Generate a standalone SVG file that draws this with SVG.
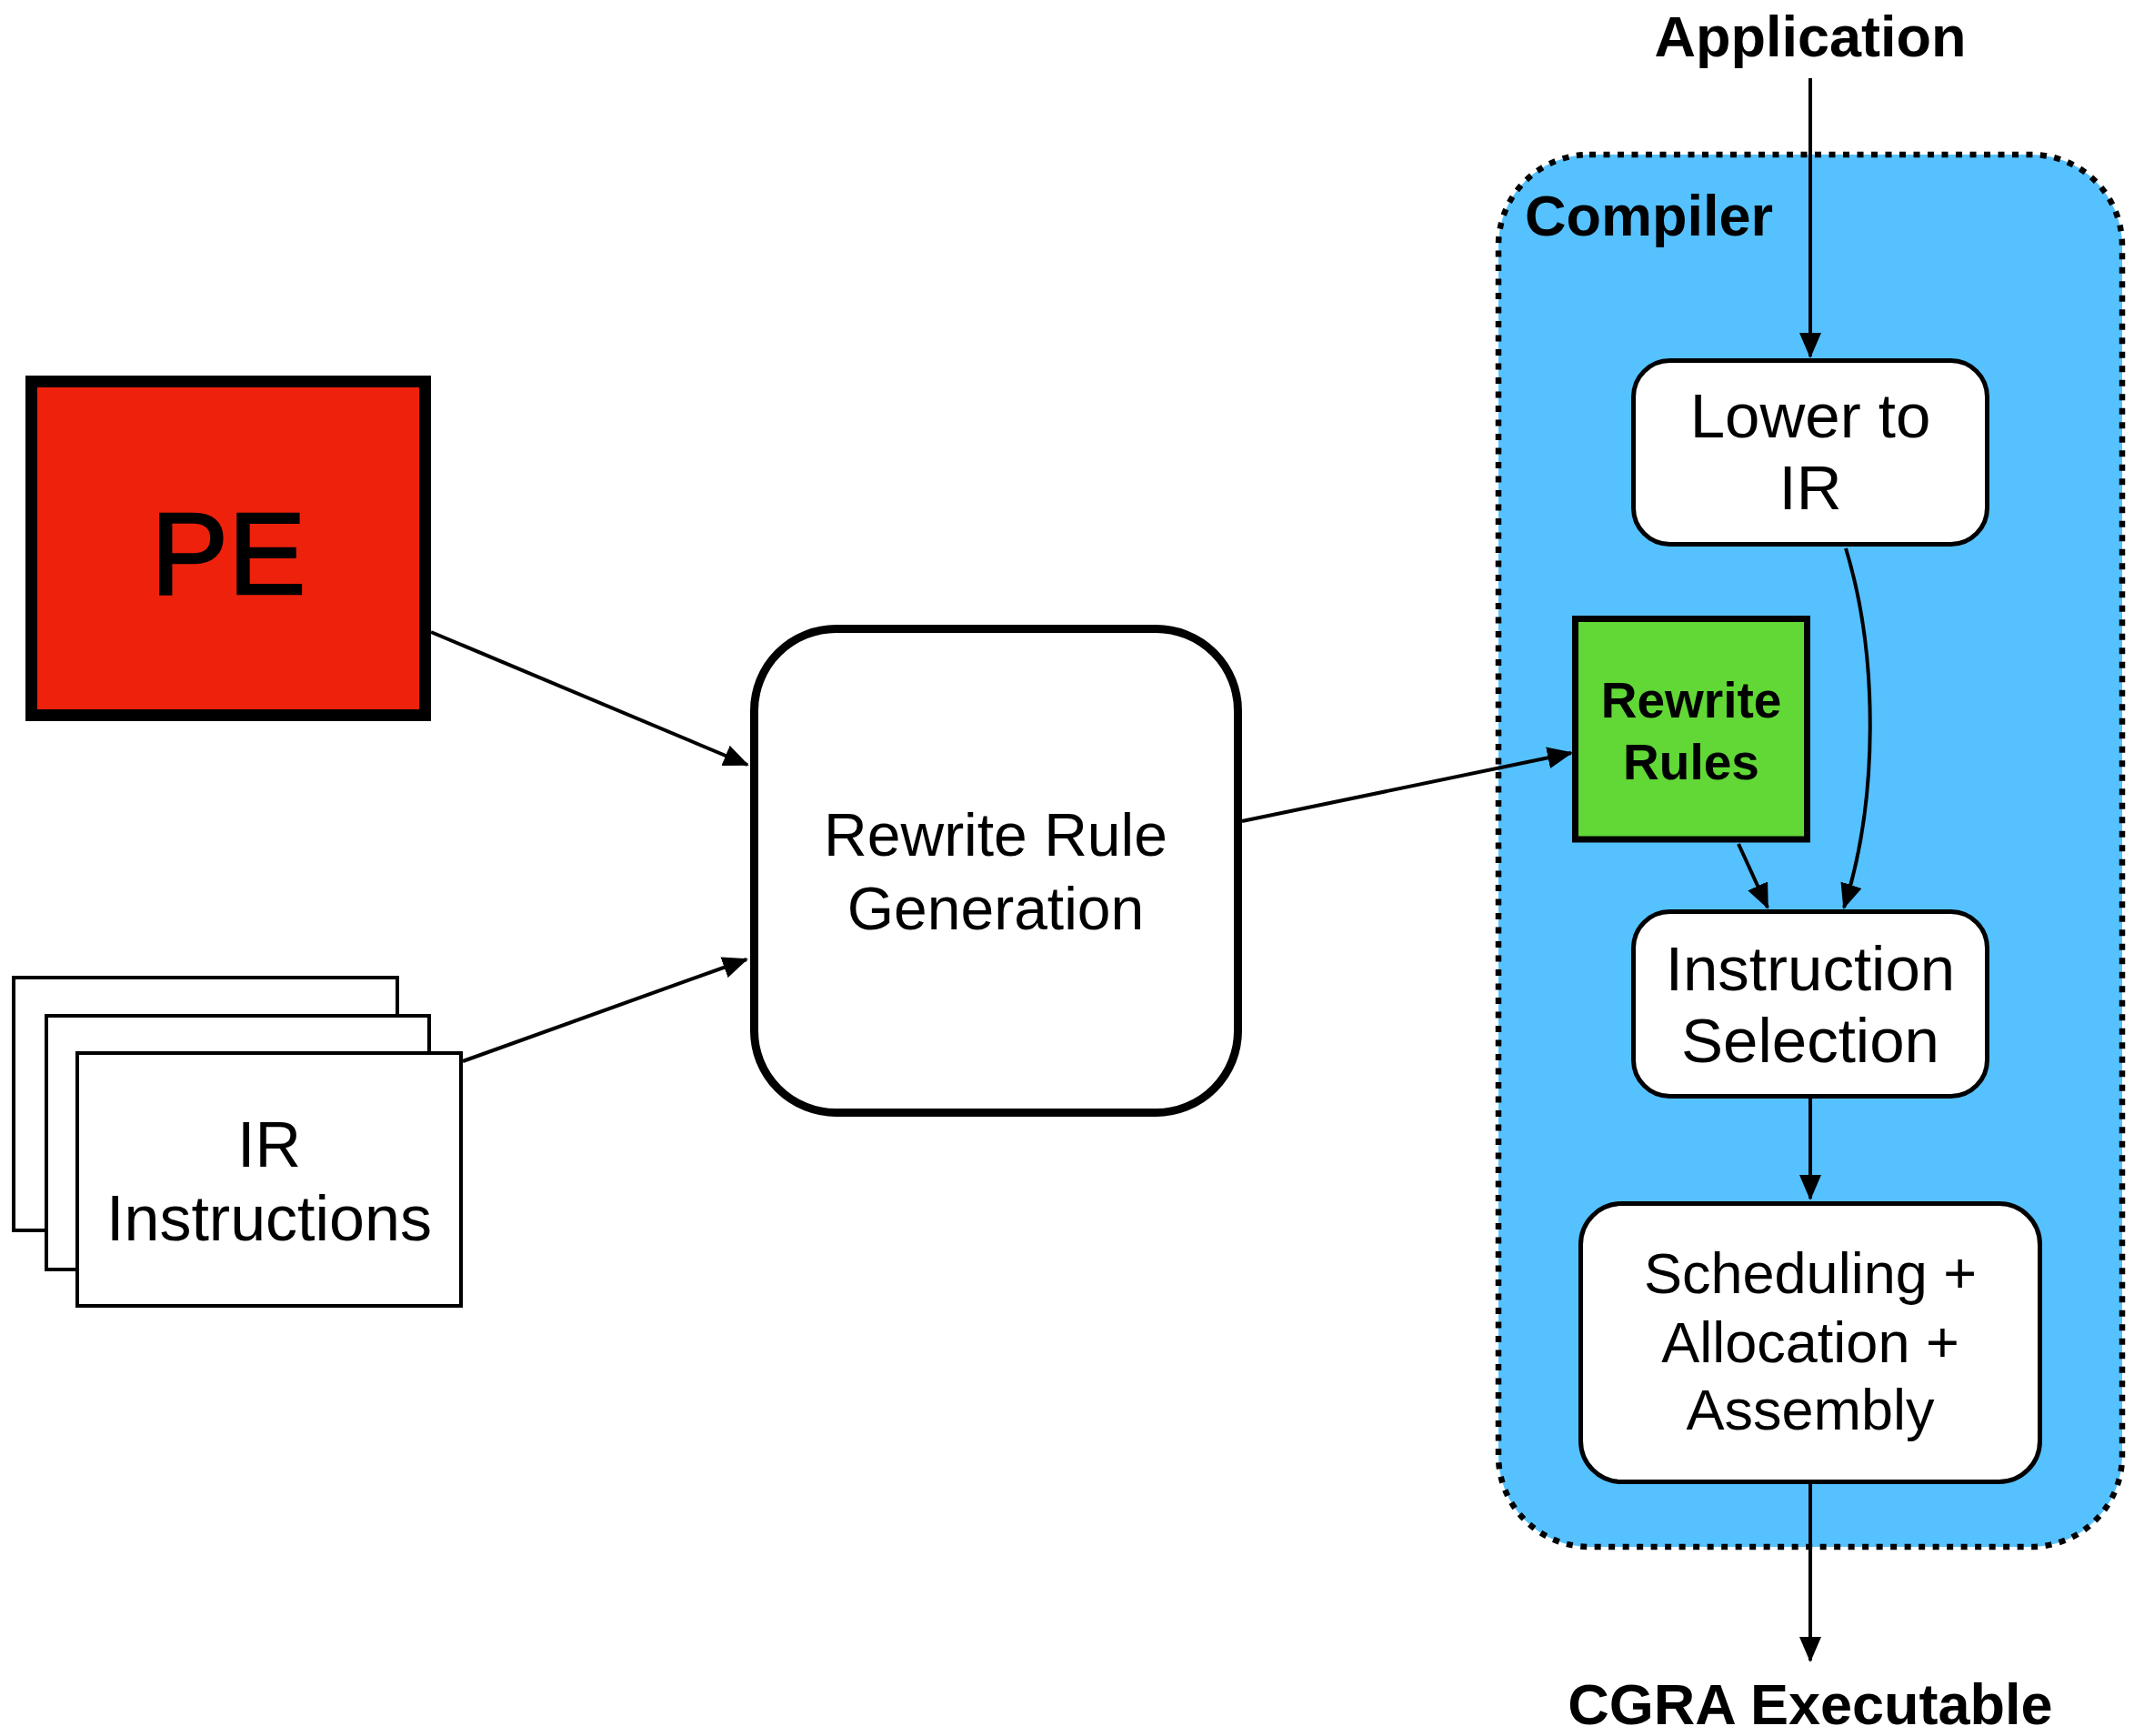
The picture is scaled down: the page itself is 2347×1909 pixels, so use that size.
<svg xmlns="http://www.w3.org/2000/svg" width="2347" height="1909" viewBox="0 0 2347 1909">
  <defs>
    <style>
      .lbl { font-family: "Liberation Sans", Arial, Helvetica, sans-serif; fill: #000; text-anchor: middle; }
      .bold { font-weight: bold; }
      .step { fill: #fff; stroke: #000; stroke-width: 5; }
      .sheet { fill: #fff; stroke: #000; stroke-width: 4; }
      .conn { fill: none; stroke: #000; stroke-width: 4; marker-end: url(#arrow); }
    </style>
    <marker id="arrow" markerUnits="userSpaceOnUse" markerWidth="28" markerHeight="24" refX="26" refY="12" orient="auto">
      <path d="M0,0 L28,12 L0,24 Z" fill="#000"/>
    </marker>
  </defs>

  <rect width="2347" height="1909" fill="#fff"/>

  <!-- Compiler container -->
  <g id="compiler">
    <rect x="1648" y="170" width="686" height="1531" rx="100" ry="100" fill="#56C1FF" stroke="#000" stroke-width="6.5" stroke-dasharray="7 8.5"/>
    <text class="lbl bold" x="1677" y="259" font-size="63" style="text-anchor:start">Compiler</text>
  </g>

  <!-- Inputs -->
  <g id="pe">
    <rect x="34.5" y="419.5" width="433" height="367" fill="#EE220C" stroke="#000" stroke-width="13"/>
    <text class="lbl" x="251" y="653" font-size="128" stroke="#000" stroke-width="2.5">PE</text>
  </g>

  <g id="ir-instructions">
    <rect class="sheet" x="15" y="1075" width="422" height="278"/>
    <rect class="sheet" x="51" y="1117" width="421" height="279"/>
    <rect class="sheet" x="85" y="1158" width="422" height="278"/>
    <text class="lbl" x="296" y="1283" font-size="70">IR</text>
    <text class="lbl" x="296" y="1364" font-size="70">Instructions</text>
  </g>

  <g id="rule-generation">
    <rect x="829.5" y="691.5" width="532" height="532" rx="90" ry="90" fill="#fff" stroke="#000" stroke-width="9"/>
    <text class="lbl" x="1095" y="941" font-size="66">Rewrite Rule</text>
    <text class="lbl" x="1095" y="1022" font-size="66">Generation</text>
  </g>

  <!-- Compiler stages -->
  <g id="lower-to-ir">
    <rect class="step" x="1796.5" y="396.5" width="389" height="202" rx="40" ry="40"/>
    <text class="lbl" x="1991" y="481" font-size="69">Lower to</text>
    <text class="lbl" x="1991" y="560" font-size="69">IR</text>
  </g>

  <g id="rewrite-rules">
    <rect x="1732.5" y="680.5" width="255" height="242.5" fill="#61D836" stroke="#000" stroke-width="7"/>
    <text class="lbl bold" x="1860" y="789" font-size="55">Rewrite</text>
    <text class="lbl bold" x="1860" y="857" font-size="55">Rules</text>
  </g>

  <g id="instruction-selection">
    <rect class="step" x="1796.5" y="1002.5" width="389" height="203" rx="40" ry="40"/>
    <text class="lbl" x="1991" y="1089" font-size="69">Instruction</text>
    <text class="lbl" x="1991" y="1168" font-size="69">Selection</text>
  </g>

  <g id="scheduling">
    <rect class="step" x="1738.5" y="1323.5" width="505" height="306" rx="45" ry="45"/>
    <text class="lbl" x="1991" y="1422" font-size="63">Scheduling +</text>
    <text class="lbl" x="1991" y="1498" font-size="63">Allocation +</text>
    <text class="lbl" x="1991" y="1572" font-size="63">Assembly</text>
  </g>

  <!-- Terminal labels -->
  <g id="application">
    <text class="lbl bold" x="1991" y="62" font-size="63">Application</text>
  </g>
  <g id="cgra-executable">
    <text class="lbl bold" x="1991" y="1896" font-size="63">CGRA Executable</text>
  </g>

  <!-- Connectors -->
  <g id="connectors">
    <path class="conn" d="M1991,86 L1991,392"/>
    <path class="conn" d="M474,695 L822,841"/>
    <path class="conn" d="M509,1167 L821,1055"/>
    <path class="conn" d="M1366,903 L1728,828"/>
    <path class="conn" d="M1912,928 L1944,998"/>
    <path class="conn" d="M2030,603 C2066,720 2066,880 2028,998"/>
    <path class="conn" d="M1991,1208 L1991,1318"/>
    <path class="conn" d="M1991,1632 L1991,1826"/>
  </g>
</svg>
